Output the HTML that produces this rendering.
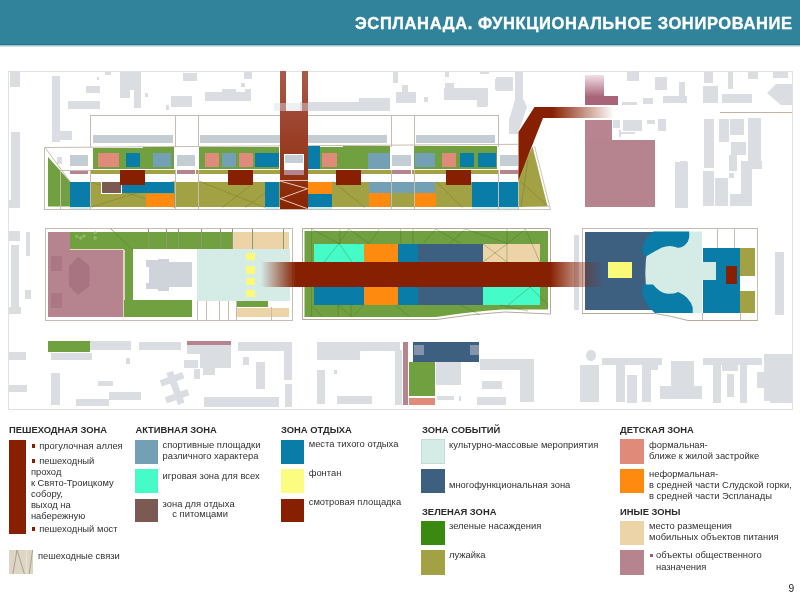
<!DOCTYPE html>
<html><head><meta charset="utf-8">
<style>
html,body{margin:0;padding:0;width:800px;height:600px;overflow:hidden;background:#fff;}
body{position:relative;font-family:"Liberation Sans",sans-serif;}
#hdr{position:absolute;left:0;top:0;width:800px;height:44px;background:#31839b;border-bottom:1px solid #2b7088;}
#hdrs{position:absolute;left:0;top:45px;width:800px;height:2px;background:linear-gradient(#86b6c4,#e4f0f3);}
#title{position:absolute;left:355px;top:14.5px;line-height:16.5px;color:#fff;font-weight:bold;font-size:16.5px;letter-spacing:0.62px;-webkit-text-stroke:0.35px #fff;will-change:transform;white-space:nowrap;}
svg{position:absolute;left:0;top:0;}
.t{position:absolute;white-space:nowrap;color:#303030;font-size:9.4px;line-height:11px;}
.h{position:absolute;white-space:nowrap;color:#2a2a2a;font-size:9.4px;line-height:11px;font-weight:bold;}
</style></head><body>
<div id="hdr"></div><div id="hdrs"></div>
<div id="title">ЭСПЛАНАДА. ФУНКЦИОНАЛЬНОЕ ЗОНИРОВАНИЕ</div>
<svg width="800" height="600" viewBox="0 0 800 600" shape-rendering="crispEdges">
<defs>
<linearGradient id="pathg" gradientUnits="userSpaceOnUse" x1="0" y1="71" x2="0" y2="209"><stop offset="0" stop-color="#aa5a4a"/><stop offset="0.3" stop-color="#a04834"/><stop offset="0.7" stop-color="#943618"/><stop offset="1" stop-color="#882400"/></linearGradient>
<linearGradient id="bandL" x1="0" y1="0" x2="1" y2="0"><stop offset="0" stop-color="#862000" stop-opacity="0"/><stop offset="1" stop-color="#862000"/></linearGradient>
<linearGradient id="bandR" x1="0" y1="0" x2="1" y2="0"><stop offset="0" stop-color="#862000"/><stop offset="1" stop-color="#862000" stop-opacity="0"/></linearGradient>
<linearGradient id="pinkT" x1="0" y1="0" x2="0" y2="1"><stop offset="0" stop-color="#f0e0e6"/><stop offset="1" stop-color="#a86478"/></linearGradient>
</defs>
<rect x="8.5" y="71.5" width="783.5" height="337.5" fill="none" stroke="#e2e2e2" stroke-width="1"/>
<rect x="10" y="71" width="10" height="16" fill="#dadee3"/>
<rect x="52" y="76" width="8" height="66" fill="#dadee3"/>
<rect x="60" y="131" width="12" height="9" fill="#dadee3"/>
<rect x="86" y="85.5" width="14" height="7.0" fill="#dadee3"/>
<rect x="68" y="101" width="32" height="8" fill="#dadee3"/>
<rect x="105" y="72" width="6" height="3" fill="#dadee3"/>
<rect x="120" y="72" width="21" height="18" fill="#dadee3"/>
<rect x="120" y="90" width="10" height="8" fill="#dadee3"/>
<rect x="134" y="78" width="7" height="30" fill="#dadee3"/>
<rect x="97" y="77" width="2" height="3" fill="#dadee3"/>
<rect x="145" y="93" width="3" height="4" fill="#dadee3"/>
<rect x="171" y="96" width="21" height="11" fill="#dadee3"/>
<rect x="166" y="105" width="3" height="5" fill="#dadee3"/>
<rect x="183" y="73" width="14" height="8" fill="#dadee3"/>
<rect x="205" y="92" width="46" height="9" fill="#dadee3"/>
<rect x="222" y="89" width="14" height="3" fill="#dadee3"/>
<rect x="245" y="89" width="6" height="3" fill="#dadee3"/>
<rect x="244" y="72" width="8" height="7" fill="#dadee3"/>
<rect x="241" y="83" width="4" height="4" fill="#dadee3"/>
<rect x="11" y="132" width="9" height="75.5" fill="#dadee3"/>
<rect x="9" y="200" width="11" height="7.5" fill="#dadee3"/>
<rect x="57" y="157" width="5" height="7" fill="#dadee3"/>
<rect x="300" y="102" width="59" height="8.5" fill="#dadee3"/>
<rect x="359" y="98" width="31" height="12.5" fill="#dadee3"/>
<rect x="393" y="72" width="5" height="11" fill="#dadee3"/>
<rect x="396" y="92" width="20" height="11" fill="#dadee3"/>
<rect x="402" y="85" width="6" height="7" fill="#dadee3"/>
<rect x="424" y="97" width="4" height="5" fill="#dadee3"/>
<rect x="445" y="83" width="9" height="17" fill="#dadee3"/>
<rect x="444" y="88" width="43" height="12" fill="#dadee3"/>
<rect x="477" y="89" width="10" height="18" fill="#dadee3"/>
<rect x="445" y="72" width="4" height="5" fill="#dadee3"/>
<rect x="480" y="72" width="9" height="1.5" fill="#dadee3"/>
<rect x="495" y="79" width="5" height="11" fill="#dadee3"/>
<rect x="480" y="88" width="8" height="18" fill="#dadee3"/>
<rect x="496" y="77" width="17" height="14" fill="#dadee3"/>
<rect x="515" y="72" width="8" height="30" fill="#dadee3"/>
<rect x="627" y="71" width="12" height="10" fill="#dadee3"/>
<rect x="655" y="77" width="12" height="13" fill="#dadee3"/>
<rect x="643" y="98" width="10" height="6" fill="#dadee3"/>
<rect x="622" y="102" width="15" height="2.5" fill="#dadee3"/>
<rect x="679" y="82" width="6" height="21" fill="#dadee3"/>
<rect x="663" y="96" width="24" height="7" fill="#dadee3"/>
<rect x="704" y="72" width="9" height="11" fill="#dadee3"/>
<rect x="703" y="86" width="15" height="17" fill="#dadee3"/>
<rect x="728" y="72" width="5" height="17" fill="#dadee3"/>
<rect x="722" y="94" width="30" height="9" fill="#dadee3"/>
<rect x="748" y="72" width="10" height="7" fill="#dadee3"/>
<rect x="773" y="72" width="15" height="6" fill="#dadee3"/>
<rect x="613" y="120" width="7" height="7.5" fill="#dadee3"/>
<rect x="623" y="120" width="19" height="10.6" fill="#dadee3"/>
<rect x="647" y="120" width="8" height="4" fill="#dadee3"/>
<rect x="658" y="119" width="8" height="12" fill="#dadee3"/>
<rect x="621" y="132" width="14" height="2" fill="#dadee3"/>
<rect x="619" y="130" width="1.5" height="7" fill="#dadee3"/>
<rect x="704" y="118.7" width="9.6" height="49.0" fill="#dadee3"/>
<rect x="718.8" y="118.7" width="10.5" height="23.6" fill="#dadee3"/>
<rect x="730" y="118.7" width="14" height="16.6" fill="#dadee3"/>
<rect x="747.7" y="118" width="13.1" height="51.4" fill="#dadee3"/>
<rect x="731" y="141.5" width="15" height="13.1" fill="#dadee3"/>
<rect x="729.3" y="154.6" width="7.9" height="16.4" fill="#dadee3"/>
<rect x="740.7" y="160.7" width="21.0" height="8.7" fill="#dadee3"/>
<rect x="740.7" y="160.7" width="11.3" height="45.3" fill="#dadee3"/>
<rect x="703" y="171" width="10.6" height="35" fill="#dadee3"/>
<rect x="714.5" y="178" width="13.1" height="28" fill="#dadee3"/>
<rect x="730" y="194" width="22" height="12" fill="#dadee3"/>
<rect x="729" y="173" width="4.7" height="5" fill="#dadee3"/>
<rect x="675" y="162" width="13" height="46" fill="#dadee3"/>
<rect x="680" y="161" width="7" height="10" fill="#dadee3"/>
<rect x="9" y="231" width="11" height="10" fill="#dadee3"/>
<rect x="11" y="245" width="8" height="65" fill="#dadee3"/>
<rect x="9" y="307" width="12" height="7" fill="#dadee3"/>
<rect x="26" y="232" width="4" height="24" fill="#dadee3"/>
<rect x="25" y="290" width="6" height="9" fill="#dadee3"/>
<rect x="574" y="235" width="5" height="75" fill="#dadee3"/>
<rect x="775" y="252" width="9" height="63" fill="#dadee3"/>
<rect x="90" y="341" width="40.5" height="8.5" fill="#dadee3"/>
<rect x="139" y="342" width="41.5" height="7.5" fill="#dadee3"/>
<rect x="187" y="345" width="13" height="9" fill="#dadee3"/>
<rect x="9" y="352" width="17" height="7.5" fill="#dadee3"/>
<rect x="51" y="352.5" width="41" height="7.5" fill="#dadee3"/>
<rect x="126" y="358" width="4" height="6" fill="#dadee3"/>
<rect x="184" y="360" width="13.5" height="7.5" fill="#dadee3"/>
<rect x="9" y="385" width="18" height="7" fill="#dadee3"/>
<rect x="51" y="373" width="9" height="32" fill="#dadee3"/>
<rect x="97.5" y="381" width="15.5" height="5" fill="#dadee3"/>
<rect x="109" y="392" width="31.5" height="7.5" fill="#dadee3"/>
<rect x="76" y="399" width="33" height="7" fill="#dadee3"/>
<rect x="194" y="369" width="6" height="10" fill="#dadee3"/>
<rect x="200" y="345" width="31" height="23" fill="#dadee3"/>
<rect x="203" y="368" width="12" height="7" fill="#dadee3"/>
<rect x="238" y="342" width="53" height="9" fill="#dadee3"/>
<rect x="284" y="342" width="8" height="38" fill="#dadee3"/>
<rect x="285" y="384" width="7" height="23" fill="#dadee3"/>
<rect x="204" y="397" width="75" height="10" fill="#dadee3"/>
<rect x="256" y="362" width="9" height="27" fill="#dadee3"/>
<rect x="243" y="357" width="6" height="8" fill="#dadee3"/>
<rect x="317" y="342" width="83" height="9" fill="#dadee3"/>
<rect x="317" y="342" width="43" height="18" fill="#dadee3"/>
<rect x="317" y="370" width="8" height="34" fill="#dadee3"/>
<rect x="337" y="396" width="35" height="8" fill="#dadee3"/>
<rect x="395" y="350" width="6.5" height="55" fill="#dadee3"/>
<rect x="334" y="370" width="3" height="4" fill="#dadee3"/>
<rect x="436" y="362" width="25" height="23" fill="#dadee3"/>
<rect x="480" y="359" width="54" height="11" fill="#dadee3"/>
<rect x="520" y="359" width="14" height="43" fill="#dadee3"/>
<rect x="482" y="381" width="20" height="8" fill="#dadee3"/>
<rect x="477" y="397" width="29" height="8" fill="#dadee3"/>
<rect x="437" y="396" width="17" height="4" fill="#dadee3"/>
<rect x="459" y="396" width="2" height="5" fill="#dadee3"/>
<rect x="580" y="365" width="18.5" height="37" fill="#dadee3"/>
<rect x="602" y="357.5" width="59.5" height="7.0" fill="#dadee3"/>
<rect x="616" y="364.5" width="9" height="37.5" fill="#dadee3"/>
<rect x="642" y="364.5" width="9" height="37.5" fill="#dadee3"/>
<rect x="651" y="364.5" width="7" height="5.5" fill="#dadee3"/>
<rect x="626.5" y="375" width="10.5" height="28" fill="#dadee3"/>
<rect x="671" y="361" width="23" height="26" fill="#dadee3"/>
<rect x="660" y="386" width="42" height="13" fill="#dadee3"/>
<rect x="703" y="358" width="59" height="7.4" fill="#dadee3"/>
<rect x="713.4" y="365" width="7.6" height="37.6" fill="#dadee3"/>
<rect x="722" y="365" width="16" height="6" fill="#dadee3"/>
<rect x="727" y="374" width="7" height="23" fill="#dadee3"/>
<rect x="739.5" y="365" width="7.5" height="37.6" fill="#dadee3"/>
<rect x="764" y="354.4" width="28" height="46.1" fill="#dadee3"/>
<rect x="756.7" y="371.6" width="10.3" height="15.9" fill="#dadee3"/>
<rect x="770" y="378.5" width="22" height="24.5" fill="#dadee3"/>
<ellipse cx="591" cy="355.5" rx="5" ry="5.8" fill="#dadee3" shape-rendering="auto"/>
<polygon points="776,84 792,84 792,105 781,105 767,93" fill="#dadee3" shape-rendering="auto"/>
<polygon points="515,100 524,100 527,107 518,134 509,134 509,120" fill="#dadee3" shape-rendering="auto"/>
<g fill="#dadee3" shape-rendering="auto"><rect x="-3" y="-17" width="7" height="34" transform="translate(175,388) rotate(-20)"/><rect x="-12" y="-3" width="24" height="6.5" transform="translate(172,379) rotate(-20)"/><rect x="-12" y="-3" width="24" height="6.5" transform="translate(177,396) rotate(-20)"/></g>
<line x1="90" y1="115" x2="498" y2="115" stroke="#c8bcb0" stroke-width="1"/>
<line x1="90" y1="115" x2="90" y2="147" stroke="#c8bcb0" stroke-width="1"/>
<line x1="175" y1="115" x2="175" y2="147" stroke="#c8bcb0" stroke-width="1"/>
<line x1="198" y1="115" x2="198" y2="147" stroke="#c8bcb0" stroke-width="1"/>
<line x1="391" y1="115" x2="391" y2="147" stroke="#c8bcb0" stroke-width="1"/>
<line x1="414" y1="115" x2="414" y2="147" stroke="#c8bcb0" stroke-width="1"/>
<line x1="498" y1="115" x2="498" y2="147" stroke="#c8bcb0" stroke-width="1"/>
<rect x="92.5" y="134.5" width="80.5" height="8.0" fill="#c4ccd4"/>
<rect x="200" y="134.5" width="187" height="8.0" fill="#c4ccd4"/>
<rect x="416" y="134.5" width="79" height="8.0" fill="#c4ccd4"/>
<line x1="44.5" y1="147.5" x2="518" y2="144.3" stroke="#c8bcb0" stroke-width="1" shape-rendering="auto"/>
<line x1="44.5" y1="147.5" x2="44.5" y2="209.5" stroke="#c8bcb0" stroke-width="1"/>
<line x1="44.5" y1="209.5" x2="518" y2="209.5" stroke="#c8bcb0" stroke-width="1"/>
<polygon points="92.5,147.7625 174,147.355 174,169 92.5,169" fill="#70a040"/>
<polygon points="199,147.23 279,146.83 279,169 199,169" fill="#70a040"/>
<polygon points="308,146.685 390,146.275 390,169 308,169" fill="#70a040"/>
<polygon points="414,146.155 497,145.74 497,169 414,169" fill="#70a040"/>
<rect x="98" y="153" width="21" height="14" fill="#e08a7a"/>
<rect x="126" y="153" width="14" height="14" fill="#0a7ca8"/>
<rect x="153" y="153" width="18" height="14" fill="#74a0b6"/>
<rect x="204.5" y="153" width="14.5" height="14" fill="#e08a7a"/>
<rect x="222" y="153" width="14" height="14" fill="#74a0b6"/>
<rect x="239" y="153" width="14" height="14" fill="#e08a7a"/>
<rect x="255" y="153" width="24" height="14" fill="#0a7ca8"/>
<rect x="322" y="153" width="15" height="14" fill="#e08a7a"/>
<rect x="415" y="153" width="20" height="14" fill="#74a0b6"/>
<rect x="442" y="153" width="14" height="14" fill="#e08a7a"/>
<rect x="460" y="153" width="14" height="14" fill="#0a7ca8"/>
<rect x="478" y="153" width="18" height="14" fill="#0a7ca8"/>
<rect x="308" y="145.5" width="12" height="23.5" fill="#0a7ca8"/>
<rect x="368" y="152.5" width="22" height="16.0" fill="#74a0b6"/>
<rect x="90" y="169.6" width="428" height="4.1" fill="#a2a244"/>
<rect x="69" y="170" width="20" height="4" fill="#ffffff"/>
<rect x="70" y="155" width="18" height="11" fill="#c4ccd4"/>
<rect x="70" y="170" width="18" height="4" fill="#b6848f"/>
<rect x="176" y="170" width="20" height="4" fill="#ffffff"/>
<rect x="177" y="155" width="18" height="11" fill="#c4ccd4"/>
<rect x="177" y="170" width="18" height="4" fill="#b6848f"/>
<rect x="391" y="170" width="21" height="4" fill="#ffffff"/>
<rect x="392" y="155" width="19" height="11" fill="#c4ccd4"/>
<rect x="392" y="170" width="19" height="4" fill="#b6848f"/>
<rect x="499" y="170" width="20" height="4" fill="#ffffff"/>
<rect x="500" y="155" width="18" height="11" fill="#c4ccd4"/>
<rect x="500" y="170" width="18" height="4" fill="#b6848f"/>
<rect x="60" y="174" width="458" height="7.5" fill="#ffffff"/>
<polygon points="48,157 70,181.5 70,206.6 48,206.6" fill="#70a040" shape-rendering="auto"/>
<line x1="45" y1="147.5" x2="70" y2="181.5" stroke="#c8bcb0" stroke-width="1" shape-rendering="auto"/>
<rect x="90" y="181.5" width="428" height="25.5" fill="#a2a244"/>
<polygon points="518,207 518,177 532.5,146.5 547.5,206.5" fill="#a2a244" shape-rendering="auto"/>
<polyline points="534.5,146 550.5,209.5 518,209.5" fill="none" stroke="#c4b4a6" stroke-width="0.8" shape-rendering="auto"/>
<line x1="90" y1="182" x2="175" y2="207.5" stroke="#7a7a2a" stroke-width="0.7" opacity="0.7" shape-rendering="auto"/>
<line x1="90" y1="207.5" x2="175" y2="181" stroke="#7a7a2a" stroke-width="0.7" opacity="0.7" shape-rendering="auto"/>
<line x1="199" y1="181" x2="265" y2="207.5" stroke="#7a7a2a" stroke-width="0.7" opacity="0.7" shape-rendering="auto"/>
<line x1="222" y1="207.5" x2="250" y2="186" stroke="#7a7a2a" stroke-width="0.7" opacity="0.7" shape-rendering="auto"/>
<line x1="245" y1="207.5" x2="265" y2="193" stroke="#7a7a2a" stroke-width="0.7" opacity="0.7" shape-rendering="auto"/>
<line x1="332.5" y1="181.5" x2="365" y2="207.5" stroke="#7a7a2a" stroke-width="0.7" opacity="0.7" shape-rendering="auto"/>
<line x1="436.5" y1="181.5" x2="462.5" y2="207.5" stroke="#7a7a2a" stroke-width="0.7" opacity="0.7" shape-rendering="auto"/>
<line x1="520" y1="181" x2="549" y2="207" stroke="#7a7a2a" stroke-width="0.7" opacity="0.7" shape-rendering="auto"/>
<line x1="528" y1="160" x2="521" y2="207" stroke="#7a7a2a" stroke-width="0.7" opacity="0.7" shape-rendering="auto"/>
<rect x="70" y="181.5" width="20" height="25.5" fill="#0a7ca8"/>
<rect x="122" y="181.5" width="52" height="11.5" fill="#0a7ca8"/>
<rect x="146" y="194" width="28" height="13" fill="#ff8a10"/>
<rect x="101" y="181" width="21" height="13" fill="#ffffff"/>
<rect x="102" y="182" width="19" height="11" fill="#7a5a52"/>
<rect x="265" y="181.5" width="14" height="25.5" fill="#0a7ca8"/>
<rect x="308" y="181.5" width="24" height="12.0" fill="#ff8a10"/>
<rect x="308" y="193.5" width="24" height="13.5" fill="#0a7ca8"/>
<rect x="369" y="181.5" width="66" height="11.5" fill="#74a0b6"/>
<rect x="369" y="193" width="21" height="14" fill="#ff8a10"/>
<rect x="414" y="193" width="22" height="14" fill="#ff8a10"/>
<rect x="472" y="181.5" width="46" height="25.5" fill="#0a7ca8"/>
<rect x="70" y="207" width="20" height="2" fill="#c8f0f8"/>
<rect x="265" y="207" width="14" height="2" fill="#c8f0f8"/>
<rect x="308" y="207" width="24" height="2" fill="#c8f0f8"/>
<rect x="472" y="207" width="46" height="2" fill="#c8f0f8"/>
<rect x="120" y="170" width="25" height="15" fill="#862000"/>
<rect x="228" y="170" width="25" height="15" fill="#862000"/>
<rect x="336" y="170" width="25" height="15" fill="#862000"/>
<rect x="446" y="170" width="25" height="15" fill="#862000"/>
<line x1="60" y1="170" x2="60" y2="209.5" stroke="#c8bcb0" stroke-width="1"/>
<line x1="90" y1="170" x2="90" y2="209.5" stroke="#c8bcb0" stroke-width="1"/>
<line x1="175" y1="170" x2="175" y2="209.5" stroke="#c8bcb0" stroke-width="1"/>
<line x1="198" y1="170" x2="198" y2="209.5" stroke="#c8bcb0" stroke-width="1"/>
<line x1="391" y1="170" x2="391" y2="209.5" stroke="#c8bcb0" stroke-width="1"/>
<line x1="414" y1="170" x2="414" y2="209.5" stroke="#c8bcb0" stroke-width="1"/>
<line x1="498" y1="170" x2="498" y2="209.5" stroke="#c8bcb0" stroke-width="1"/>
<line x1="518" y1="170" x2="518" y2="209.5" stroke="#c8bcb0" stroke-width="1"/>
<line x1="60" y1="170.4" x2="90" y2="170.4" stroke="#c8bcb0" stroke-width="1"/>
<rect x="280" y="71.3" width="5.8" height="39.7" fill="url(#pathg)"/>
<rect x="302" y="71.3" width="5.6" height="39.7" fill="url(#pathg)"/>
<rect x="280" y="111" width="27.6" height="98" fill="url(#pathg)"/>
<rect x="274" y="103" width="44" height="8" fill="#dadee3"opacity="0.45"/>
<rect x="284.2" y="153.7" width="19.5" height="16.3" fill="#ffffff"/>
<rect x="285" y="154.5" width="18" height="8.5" fill="#c4ccd4"/>
<rect x="284.2" y="170" width="19.5" height="4.5" fill="#b6848f"/>
<line x1="280" y1="180.5" x2="307.6" y2="180.5" stroke="#e0c0b0" stroke-width="1"/>
<polyline points="280,181 307.6,188.7 280,198.7 307.6,208.7" fill="none" stroke="#e8c8b8" stroke-width="1" shape-rendering="auto"/>
<polygon points="518.5,180 518.5,132 534.5,106.9 552.5,106.9 552.5,118.1 543,118.1" fill="#862000" shape-rendering="auto"/>
<rect x="552" y="106.9" width="62" height="11.2" fill="url(#bandR)"/>
<rect x="585" y="75" width="19" height="22" fill="url(#pinkT)"/>
<rect x="585" y="96" width="33" height="8.75" fill="#a86478"/>
<rect x="585" y="120" width="27" height="20.5" fill="#b88490"/>
<rect x="585" y="140" width="70" height="67" fill="#b6848f"/>
<line x1="720" y1="112" x2="792" y2="112" stroke="#c8b0a0" stroke-width="1"/>
<rect x="45.5" y="228.5" width="247.0" height="92.0" fill="none" stroke="#c8bcb0" stroke-width="1"/>
<rect x="48" y="231.5" width="75.5" height="85.0" fill="#b6848f"/>
<rect x="69.6" y="231.5" width="163.4" height="17.5" fill="#70a040"/>
<line x1="69.6" y1="249.5" x2="123.5" y2="249.5" stroke="#e8dcc0" stroke-width="1"/>
<rect x="233" y="231.5" width="56" height="17.5" fill="#ecd3a8"/>
<rect x="123.5" y="249" width="9.8" height="68" fill="#70a040"/>
<rect x="123.3" y="249.5" width="1.7" height="67.0" fill="#ddd4bc"/>
<rect x="124" y="300" width="68" height="17.3" fill="#70a040"/>
<polygon points="78.4,256.4 89.6,266 89.6,286 78.4,294.9 68.8,286 68.8,266" fill="#a87482" shape-rendering="auto"/>
<rect x="51.2" y="255.6" width="11.2" height="15.2" fill="#ab7784"/>
<rect x="51.2" y="292.5" width="11.2" height="15.2" fill="#ab7784"/>
<circle cx="76.8" cy="236.4" r="1.2" fill="none" stroke="#b8d8a0" stroke-width="0.6" shape-rendering="auto"/>
<circle cx="80.8" cy="238" r="1.2" fill="none" stroke="#b8d8a0" stroke-width="0.6" shape-rendering="auto"/>
<circle cx="84" cy="236" r="1.2" fill="none" stroke="#b8d8a0" stroke-width="0.6" shape-rendering="auto"/>
<circle cx="95.2" cy="238" r="1.2" fill="none" stroke="#b8d8a0" stroke-width="0.6" shape-rendering="auto"/>
<circle cx="95.2" cy="232.4" r="1.2" fill="none" stroke="#b8d8a0" stroke-width="0.6" shape-rendering="auto"/>
<line x1="110.5" y1="228.4" x2="132.9" y2="250" stroke="#5a8a30" stroke-width="0.7" shape-rendering="auto"/>
<rect x="169.3" y="262" width="22.7" height="25.3" fill="#cfd4da"/>
<rect x="158" y="258.7" width="11.3" height="32.0" fill="#cfd4da"/>
<rect x="146" y="260" width="12" height="28.7" fill="#cfd4da"/>
<rect x="146" y="266.7" width="3.3" height="16.6" fill="#ffffff"/>
<rect x="196.7" y="249" width="93.3" height="51.5" fill="#d4ebe6"/>
<rect x="246.4" y="252.9" width="8.1" height="7.4" fill="#fafa78"/>
<rect x="246.4" y="265.9" width="8.1" height="8.1" fill="#fafa78"/>
<rect x="246.4" y="278" width="8.1" height="7.4" fill="#fafa78"/>
<rect x="246.4" y="289.6" width="8.1" height="7.8" fill="#fafa78"/>
<rect x="237" y="301" width="31" height="6" fill="#70a040"/>
<rect x="237" y="308" width="52" height="9" fill="#ecd3a8"/>
<line x1="197.3" y1="300.5" x2="197.3" y2="320" stroke="#c8bcb0" stroke-width="1"/>
<line x1="206.7" y1="300.5" x2="206.7" y2="320" stroke="#c8bcb0" stroke-width="1"/>
<line x1="219" y1="300.5" x2="219" y2="320" stroke="#c8bcb0" stroke-width="1"/>
<line x1="228.5" y1="300.5" x2="228.5" y2="320" stroke="#c8bcb0" stroke-width="1"/>
<line x1="236.6" y1="300.5" x2="236.6" y2="320" stroke="#c8bcb0" stroke-width="1"/>
<line x1="271.4" y1="307" x2="271.4" y2="320" stroke="#c8bcb0" stroke-width="1"/>
<line x1="148" y1="228.5" x2="148" y2="249" stroke="#8a9a70" stroke-width="opacity="0.6""/>
<line x1="166" y1="228.5" x2="166" y2="249" stroke="#8a9a70" stroke-width="opacity="0.6""/>
<line x1="178.7" y1="228.5" x2="178.7" y2="249" stroke="#8a9a70" stroke-width="opacity="0.6""/>
<line x1="201" y1="228.5" x2="201" y2="249" stroke="#8a9a70" stroke-width="opacity="0.6""/>
<line x1="220" y1="228.5" x2="220" y2="249" stroke="#8a9a70" stroke-width="opacity="0.6""/>
<line x1="232" y1="228.5" x2="232" y2="249" stroke="#8a9a70" stroke-width="opacity="0.6""/>
<line x1="252" y1="228.5" x2="252" y2="249" stroke="#8a9a70" stroke-width="opacity="0.6""/>
<line x1="283" y1="228.5" x2="283" y2="249" stroke="#8a9a70" stroke-width="opacity="0.6""/>
<path d="M302.5,228.5 L550.5,228.5 L550.5,314 L505,312 Q470,314 437,319.5 L302.5,319.5 Z" fill="none" stroke="#b8a898" stroke-width="1" shape-rendering="auto"/>
<path d="M304.5,231 L548,231 L548,309.5 L502,309.5 Q470,311.5 436,317 L304.5,317 Z" fill="#70a040" shape-rendering="auto"/>
<rect x="314" y="244" width="50" height="18" fill="#45fbc8"/>
<rect x="364" y="244" width="33.5" height="18" fill="#ff8a10"/>
<rect x="397.5" y="244" width="20.5" height="18" fill="#0a7ca8"/>
<rect x="418" y="244" width="65" height="18" fill="#3d5f80"/>
<rect x="483" y="244" width="57" height="18" fill="#ecd3a8"/>
<rect x="314" y="287" width="50" height="18" fill="#0a7ca8"/>
<rect x="364" y="287" width="33.5" height="18" fill="#ff8a10"/>
<rect x="397.5" y="287" width="20.5" height="18" fill="#0a7ca8"/>
<rect x="418" y="287" width="65" height="18" fill="#3d5f80"/>
<rect x="483" y="287" width="57" height="18" fill="#45fbc8"/>
<line x1="311.4" y1="229" x2="339" y2="243.5" stroke="#3a6a28" stroke-width="0.6" opacity="0.55" shape-rendering="auto"/>
<line x1="339" y1="243.5" x2="348.7" y2="229" stroke="#3a6a28" stroke-width="0.6" opacity="0.55" shape-rendering="auto"/>
<line x1="348.7" y1="229" x2="369" y2="243.5" stroke="#3a6a28" stroke-width="0.6" opacity="0.55" shape-rendering="auto"/>
<line x1="369" y1="243.5" x2="379.6" y2="229" stroke="#3a6a28" stroke-width="0.6" opacity="0.55" shape-rendering="auto"/>
<line x1="324" y1="262" x2="339" y2="243.5" stroke="#3a6a28" stroke-width="0.6" opacity="0.55" shape-rendering="auto"/>
<line x1="339" y1="243.5" x2="352" y2="262" stroke="#3a6a28" stroke-width="0.6" opacity="0.55" shape-rendering="auto"/>
<line x1="423.4" y1="243.5" x2="436" y2="229" stroke="#3a6a28" stroke-width="0.6" opacity="0.55" shape-rendering="auto"/>
<line x1="436" y1="229" x2="460.5" y2="243.5" stroke="#3a6a28" stroke-width="0.6" opacity="0.55" shape-rendering="auto"/>
<line x1="449.5" y1="243.5" x2="465.6" y2="229" stroke="#3a6a28" stroke-width="0.6" opacity="0.55" shape-rendering="auto"/>
<line x1="465.6" y1="229" x2="507.7" y2="243.5" stroke="#3a6a28" stroke-width="0.6" opacity="0.55" shape-rendering="auto"/>
<line x1="507.7" y1="243.5" x2="525.5" y2="229" stroke="#3a6a28" stroke-width="0.6" opacity="0.55" shape-rendering="auto"/>
<line x1="525.5" y1="229" x2="539.8" y2="262" stroke="#3a6a28" stroke-width="0.6" opacity="0.55" shape-rendering="auto"/>
<line x1="483" y1="244" x2="507" y2="262" stroke="#3a6a28" stroke-width="0.6" opacity="0.55" shape-rendering="auto"/>
<line x1="507" y1="244" x2="483" y2="262" stroke="#3a6a28" stroke-width="0.6" opacity="0.55" shape-rendering="auto"/>
<line x1="311" y1="305" x2="323" y2="317" stroke="#3a6a28" stroke-width="0.6" opacity="0.55" shape-rendering="auto"/>
<line x1="338" y1="305" x2="352" y2="317" stroke="#3a6a28" stroke-width="0.6" opacity="0.55" shape-rendering="auto"/>
<line x1="352" y1="317" x2="364" y2="305" stroke="#3a6a28" stroke-width="0.6" opacity="0.55" shape-rendering="auto"/>
<line x1="395" y1="305" x2="410" y2="317" stroke="#3a6a28" stroke-width="0.6" opacity="0.55" shape-rendering="auto"/>
<line x1="460" y1="305" x2="480" y2="315" stroke="#3a6a28" stroke-width="0.6" opacity="0.55" shape-rendering="auto"/>
<line x1="500" y1="305" x2="528" y2="311" stroke="#3a6a28" stroke-width="0.6" opacity="0.55" shape-rendering="auto"/>
<line x1="530" y1="287" x2="548" y2="305" stroke="#3a6a28" stroke-width="0.6" opacity="0.55" shape-rendering="auto"/>
<line x1="508" y1="305" x2="530" y2="287" stroke="#3a6a28" stroke-width="0.6" opacity="0.55" shape-rendering="auto"/>
<line x1="311.4" y1="229" x2="311.4" y2="317" stroke="#3a6a28" stroke-width="0.6" opacity="0.55" shape-rendering="auto"/>
<line x1="339.8" y1="229" x2="339.8" y2="244" stroke="#3a6a28" stroke-width="0.6" opacity="0.55" shape-rendering="auto"/>
<line x1="400.7" y1="229" x2="400.7" y2="244" stroke="#3a6a28" stroke-width="0.6" opacity="0.55" shape-rendering="auto"/>
<line x1="413" y1="229" x2="413" y2="244" stroke="#3a6a28" stroke-width="0.6" opacity="0.55" shape-rendering="auto"/>
<line x1="507" y1="229" x2="507" y2="262" stroke="#3a6a28" stroke-width="0.6" opacity="0.55" shape-rendering="auto"/>
<line x1="338" y1="305" x2="338" y2="317" stroke="#3a6a28" stroke-width="0.6" opacity="0.55" shape-rendering="auto"/>
<line x1="351" y1="305" x2="351" y2="317" stroke="#3a6a28" stroke-width="0.6" opacity="0.55" shape-rendering="auto"/>
<line x1="582" y1="228.5" x2="757.5" y2="228.5" stroke="#c8bcb0" stroke-width="1"/>
<line x1="582" y1="228.5" x2="582" y2="313.5" stroke="#c8bcb0" stroke-width="1"/>
<line x1="757.5" y1="228.5" x2="757.5" y2="320.5" stroke="#c8bcb0" stroke-width="1"/>
<path d="M582,313.5 L655,313.5 Q672,316 688,320.5 L757.5,320.5" fill="none" stroke="#b8a898" stroke-width="1" shape-rendering="auto"/>
<rect x="585" y="231.5" width="117" height="78.2" fill="#3d5f80"/>
<g shape-rendering="auto"><path d="M653.5,231.5 L702,231.5 L702,313 L654,313 Q644,292 645.5,268 Q646,246 653.5,231.5 Z" fill="#d4ebe6"/><path d="M653.5,231.5 L689,231.5 Q690.5,241 684.5,245.5 Q680,248.5 677,247.5 Q670,244.5 662,247.5 Q655,251 646,256.5 Q641,253 642.4,247.5 Q645,238 653.5,231.5 Z" fill="#0a7ca8"/><path d="M644.1,284.6 L653.1,284.6 Q660,293.5 667.5,293.8 Q674,294 678.3,291.9 Q690,297 692.7,307.6 L692.7,313 L655,313 Q645,305 642.3,292.3 Q642,287 644.1,284.6 Z" fill="#0a7ca8"/></g>
<rect x="703" y="248" width="37" height="65" fill="#0a7ca8"/>
<rect x="702" y="261.5" width="14" height="18.5" fill="#d4ebe6"/>
<rect x="726" y="266" width="11" height="18" fill="#862000"/>
<rect x="740" y="248" width="15" height="28" fill="#a2a244"/>
<rect x="740" y="291" width="15" height="22" fill="#a2a244"/>
<rect x="608" y="262" width="24" height="16" fill="#fafa78"/>
<line x1="717" y1="228" x2="717" y2="248" stroke="#c8bcb0" stroke-width="1"/>
<line x1="734" y1="228" x2="734" y2="248" stroke="#c8bcb0" stroke-width="1"/>
<line x1="702" y1="313" x2="702" y2="320" stroke="#c8bcb0" stroke-width="1"/>
<line x1="740" y1="313" x2="740" y2="320" stroke="#c8bcb0" stroke-width="1"/>
<rect x="261" y="262" width="35" height="25" fill="url(#bandL)"/>
<rect x="296" y="262" width="254" height="25" fill="#862000"/>
<rect x="550" y="262" width="54" height="25" fill="url(#bandR)"/>
<rect x="48" y="341" width="42" height="11" fill="#70a040"/>
<rect x="187" y="341" width="44" height="4" fill="#b6848f"/>
<rect x="403" y="342" width="4.7" height="63" fill="#b6848f"/>
<rect x="413" y="342" width="66" height="20" fill="#3d5f80"/>
<rect x="414" y="345" width="10" height="9.5" fill="#8494aa"/>
<rect x="470" y="345" width="9" height="10" fill="#8494aa"/>
<rect x="409" y="362" width="25.6" height="34.3" fill="#70a040"/>
<rect x="409" y="397.6" width="25.6" height="7.7" fill="#e08a7a"/>
</svg>
<div id="lg" style="position:absolute;left:0;top:0;width:800px;height:600px;will-change:transform;">
<div class="h" style="left:9px;top:423.74px;">ПЕШЕХОДНАЯ ЗОНА</div>
<div style="position:absolute;left:9px;top:439.7px;width:17px;height:94.3px;background:#862000;"></div>
<div style="position:absolute;left:31.7px;top:444.0px;width:3.5px;height:3.5px;background:#862000"></div>
<div class="t" style="left:39.3px;top:439.54px;">прогулочная аллея</div>
<div style="position:absolute;left:31.7px;top:459.4px;width:3.5px;height:3.5px;background:#862000"></div>
<div class="t" style="left:39.3px;top:454.94px;">пешеходный</div>
<div class="t" style="left:30.9px;top:465.74px;">проход</div>
<div class="t" style="left:30.9px;top:476.74px;">к Свято-Троицкому</div>
<div class="t" style="left:30.9px;top:487.74px;">собору,</div>
<div class="t" style="left:30.9px;top:498.74px;">выход на</div>
<div class="t" style="left:30.9px;top:509.74px;">набережную</div>
<div style="position:absolute;left:31.7px;top:527.2px;width:3.5px;height:3.5px;background:#862000"></div>
<div class="t" style="left:39.3px;top:522.74px;">пешеходный мост</div>
<svg style="position:absolute;left:8.85px;top:550px" width="24.3" height="24" viewBox="0 0 24.3 24" shape-rendering="auto"><rect width="24.3" height="24" fill="#dcd6c4"/><line x1="17.4" y1="0" x2="17.4" y2="24" stroke="#ece8dc" stroke-width="0.8"/><polyline points="3.9,24 8,0 15.4,24" fill="none" stroke="#a89888" stroke-width="0.9"/><line x1="23.6" y1="0" x2="20.3" y2="24" stroke="#a89888" stroke-width="0.9"/></svg>
<div class="t" style="left:38px;top:549.74px;">пешеходные связи</div>
<div class="h" style="left:135.4px;top:423.74px;">АКТИВНАЯ ЗОНА</div>
<div style="position:absolute;left:135.4px;top:439.7px;width:22.9px;height:24.7px;background:#74a0b6;"></div>
<div style="position:absolute;left:135.4px;top:469px;width:22.9px;height:24.4px;background:#45fbc8;"></div>
<div style="position:absolute;left:135.4px;top:498.8px;width:22.9px;height:23.6px;background:#7a5a52;"></div>
<div class="t" style="left:162.6px;top:439.24px;">спортивные площадки</div>
<div class="t" style="left:162.6px;top:450.24px;">различного характера</div>
<div class="t" style="left:162.6px;top:470.24px;">игровая зона для всех</div>
<div class="t" style="left:162.6px;top:497.74px;">зона для отдыха</div>
<div class="t" style="left:172.3px;top:508.24px;">с питомцами</div>
<div class="h" style="left:281px;top:423.74px;">ЗОНА ОТДЫХА</div>
<div style="position:absolute;left:281px;top:439.7px;width:22.5px;height:24.7px;background:#0a7ca8;"></div>
<div style="position:absolute;left:281px;top:469px;width:22.5px;height:24.4px;background:#fcfc80;"></div>
<div style="position:absolute;left:281px;top:498.8px;width:22.5px;height:23.6px;background:#862000;"></div>
<div class="t" style="left:308.7px;top:438.24px;">места тихого отдыха</div>
<div class="t" style="left:308.7px;top:467.24px;">фонтан</div>
<div class="t" style="left:308.7px;top:496.24px;">смотровая площадка</div>
<div class="h" style="left:422px;top:423.74px;">ЗОНА СОБЫТИЙ</div>
<div style="position:absolute;left:421px;top:439.4px;width:24.2px;height:24.6px;background:#d4ebe6;box-sizing:border-box;border:1px solid #c4dcd6;"></div>
<div style="position:absolute;left:421px;top:469.4px;width:24.2px;height:23.6px;background:#3d5f80;"></div>
<div class="t" style="left:449px;top:438.74px;">культурно-массовые мероприятия</div>
<div class="t" style="left:449px;top:479.24px;">многофункциональная зона</div>
<div class="h" style="left:422px;top:505.64px;">ЗЕЛЕНАЯ ЗОНА</div>
<div style="position:absolute;left:421px;top:521px;width:24.2px;height:24px;background:#3a8a12;"></div>
<div style="position:absolute;left:421px;top:550.4px;width:24.2px;height:24.2px;background:#a2a244;"></div>
<div class="t" style="left:449px;top:519.74px;">зеленые насаждения</div>
<div class="t" style="left:449px;top:548.74px;">лужайка</div>
<div class="h" style="left:620px;top:423.74px;">ДЕТСКАЯ ЗОНА</div>
<div style="position:absolute;left:620px;top:439.4px;width:23.5px;height:24.6px;background:#e08a7a;"></div>
<div style="position:absolute;left:620px;top:469.4px;width:23.5px;height:24.1px;background:#ff8a10;"></div>
<div class="t" style="left:649px;top:438.74px;">формальная-</div>
<div class="t" style="left:649px;top:450.24px;">ближе к жилой застройке</div>
<div class="t" style="left:649px;top:468.24px;">неформальная-</div>
<div class="t" style="left:649px;top:479.24px;">в средней части Слудской горки,</div>
<div class="t" style="left:649px;top:490.24px;">в средней части Эспланады</div>
<div class="h" style="left:620px;top:505.64px;">ИНЫЕ ЗОНЫ</div>
<div style="position:absolute;left:620px;top:521px;width:23.5px;height:24px;background:#ecd3a8;"></div>
<div style="position:absolute;left:620px;top:550.4px;width:23.5px;height:24.2px;background:#b6848f;"></div>
<div class="t" style="left:649px;top:519.74px;">место размещения</div>
<div class="t" style="left:649px;top:531.24px;">мобильных объектов питания</div>
<div style="position:absolute;left:649.5px;top:553.7px;width:3.5px;height:3.5px;background:#a05a6a"></div>
<div class="t" style="left:656px;top:549.24px;">объекты общественного</div>
<div class="t" style="left:656px;top:560.74px;">назначения</div>
<div style="position:absolute;left:788.6px;top:583.4px;font-size:10.2px;line-height:11px;color:#222;">9</div>
</div>
</body></html>
